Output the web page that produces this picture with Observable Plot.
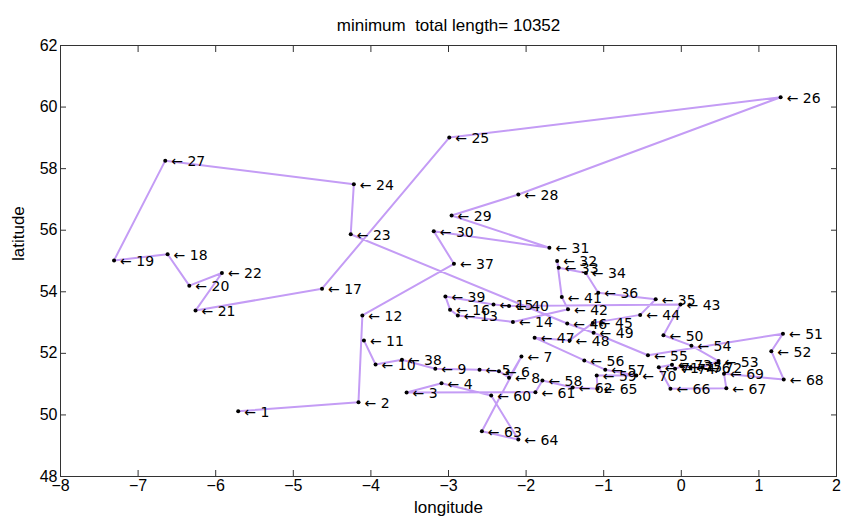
<!DOCTYPE html>
<html><head><meta charset="utf-8">
<script src="https://cdn.jsdelivr.net/npm/d3@7"></script>
<script src="https://cdn.jsdelivr.net/npm/@observablehq/plot@0.6"></script>
<style>
body{margin:0;background:#fff;}
svg{font-family:"Liberation Sans",Arial,sans-serif;}
</style>
</head><body><div id="chart"></div>
<script>
const titleText = "minimum  total length= 10352";
const xLabel = "longitude";
const yLabel = "latitude";
const cityIds = d3.range(1, 77);
const lon = [-5.71,-4.16,-3.54,-3.09,-2.60,-2.35,-2.06,-2.22,-3.17,-3.94,
             -4.09,-4.11,-2.88,-2.17,-2.42,-2.98,-4.63,-6.62,-7.31,-6.34,
             -6.26,-5.92,-4.26,-4.22,-2.99,1.28,-6.65,-2.10,-2.96,-3.19,
             -1.70,-1.60,-1.58,-1.23,-0.33,-1.07,-2.93,-3.60,-3.04,-2.22,
             -1.54,-1.46,-0.01,-0.53,-1.14,-1.47,-1.89,-1.44,-1.13,-0.23,
             1.31,1.16,0.48,0.13,-0.43,-1.25,-0.98,-1.79,-1.09,-2.45,
             -1.88,-1.40,-2.57,-2.10,-1.08,-0.14,0.58,1.32,0.55,-0.58,
             -0.29,0.27,-0.12,-0.08,0.01,0.12];
const lat = [50.12,50.41,50.73,51.03,51.47,51.42,51.90,51.21,51.50,51.64,
             52.42,53.23,53.23,53.02,53.59,53.42,54.10,55.22,55.02,54.20,
             53.39,54.61,55.87,57.49,59.01,60.32,58.26,57.16,56.48,55.97,
             55.43,55.00,54.78,54.61,53.76,53.97,54.91,51.79,53.85,53.54,
             53.83,53.43,53.59,53.25,52.99,52.97,52.51,52.42,52.67,52.59,
             52.64,52.07,51.75,52.25,51.94,51.77,51.47,51.12,51.28,50.63,
             50.74,50.89,49.47,49.20,50.85,50.85,50.87,51.15,51.34,51.28,
             51.55,51.55,51.63,51.50,51.58,51.55];
const route = [1,2,12,37,30,31,29,28,26,25,17,21,22,20,18,19,27,24,23,46,49,55,
               51,52,68,69,67,66,71,73,74,75,76,72,53,54,50,43,40,15,39,16,13,14,
               42,41,32,33,34,36,35,44,45,48,47,56,57,70,59,65,62,58,61,3,4,60,
               64,63,7,8,6,5,9,38,10,11];
const xTicks = d3.range(-8, 3, 1);
const yTicks = d3.range(48, 63, 2);

const cities = cityIds.map((id, i) => ({id, lon: lon[i], lat: lat[i]}));
const byId = new Map(cities.map(c => [c.id, c]));
const path = route.map(id => byId.get(id));

const axisColor = "#333";
const chart = Plot.plot({
  width: 842, height: 522,
  marginTop: 45, marginBottom: 46, marginLeft: 60, marginRight: 6,
  x: {domain: [-8, 2]},
  y: {domain: [48, 62]},
  style: {fontFamily: '"Liberation Sans", Arial, sans-serif', background: "#fff"},
  marks: [
    Plot.frame({stroke: axisColor, strokeWidth: 1}),
    Plot.axisX(xTicks, {anchor: "bottom", tickSize: -6, text: null, stroke: axisColor, label: null}),
    Plot.axisX(xTicks, {anchor: "top", tickSize: -6, text: null, stroke: axisColor, label: null}),
    Plot.axisY(yTicks, {anchor: "left", tickSize: -6, text: null, stroke: axisColor, label: null}),
    Plot.axisY(yTicks, {anchor: "right", tickSize: -6, text: null, stroke: axisColor, label: null}),
    Plot.axisX(xTicks, {anchor: "bottom", tickSize: 0, tickPadding: 3, fontSize: 16, fill: "#000", label: null}),
    Plot.axisY(yTicks, {anchor: "left", tickSize: 0, tickPadding: 3, fontSize: 16, fill: "#000", label: null}),
    Plot.line(path, {x: "lon", y: "lat", stroke: "#c49cf5", strokeWidth: 2}),
    Plot.dot(cities, {x: "lon", y: "lat", r: 2, fill: "#000", stroke: "none"}),
    Plot.text(cities, {x: "lon", y: "lat", text: d => "\u2190 " + d.id, textAnchor: "start", dx: 6, dy: 1, fontSize: 14, fontFamily: '"DejaVu Sans", sans-serif', fill: "#000"}),
    Plot.text([titleText], {frameAnchor: "top", dy: -27, fontSize: 17, fill: "#000"}),
    Plot.text([xLabel], {frameAnchor: "bottom", dy: 36, fontSize: 17, fill: "#000"}),
    Plot.text([yLabel], {frameAnchor: "left", dx: -42, rotate: -90, fontSize: 17, fill: "#000"})
  ]
});
document.getElementById("chart").appendChild(chart);
</script>
</body></html>
